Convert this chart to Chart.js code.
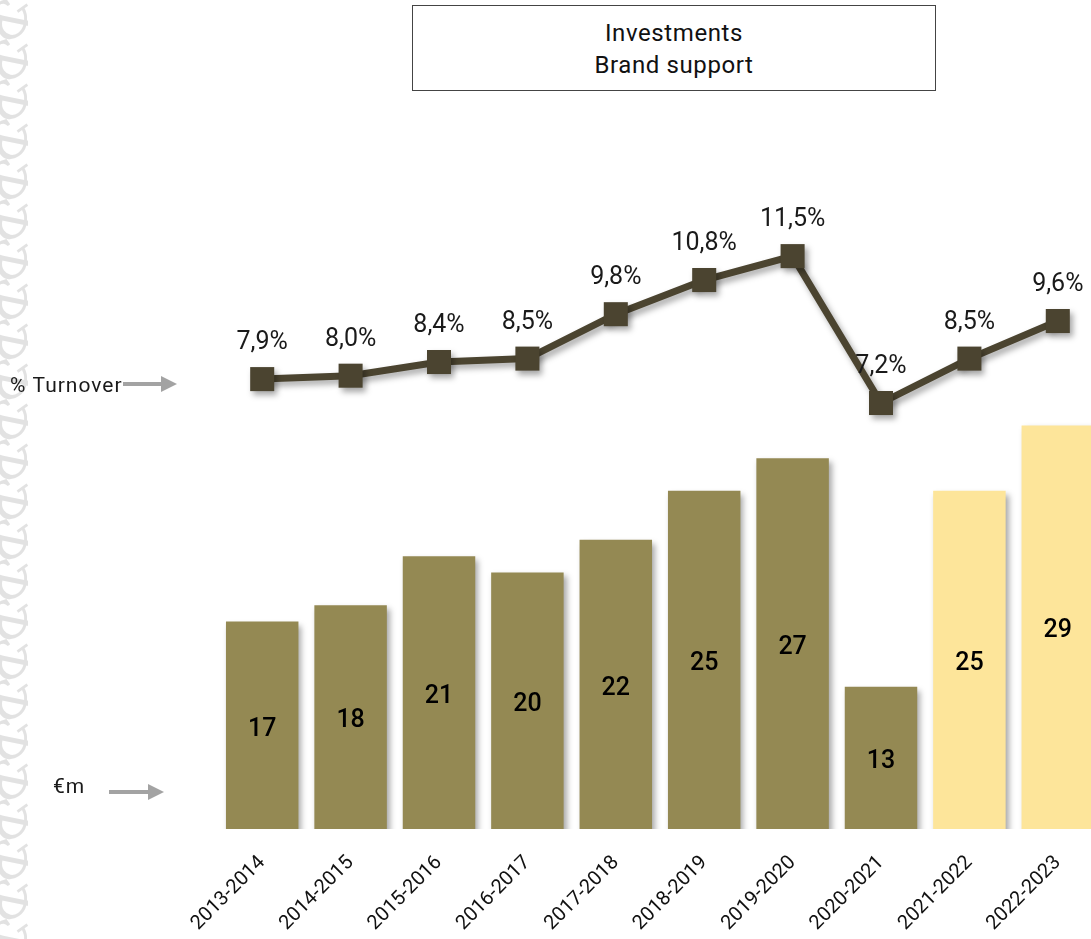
<!DOCTYPE html>
<html>
<head>
<meta charset="utf-8">
<script src="https://cdn.jsdelivr.net/npm/chart.js@4.4.0/dist/chart.umd.min.js"></script>
<style>
  html, body { margin: 0; padding: 0; background: #fff; overflow: hidden; }
  #wrap { position: relative; width: 1091px; height: 939px; overflow: hidden; }
  #chart { position: absolute; left: 0; top: 0; }
  #title {
    position: absolute; left: 412px; top: 5px; width: 524px; height: 86px;
    border: 1px solid #444; background: #fff;
    font-family: Roboto, "DejaVu Sans", sans-serif; font-size: 24px; color: #111;
    letter-spacing: 0.6px;
    text-align: center; line-height: 32px; padding-top: 11px; box-sizing: border-box;
  }
  #strip {
    position: absolute; left: 0; top: 0; width: 28px; height: 939px; overflow: hidden;
    font-family: "DejaVu Serif", serif; font-size: 52px; color: #e2e2e2; line-height: 40px;
  }
  #strip span { display: block; transform: rotate(-35deg); margin-left: -10px; }
</style>
</head>
<body>
<div id="wrap">
  <div id="strip"></div>
  <canvas id="chart" width="1119" height="939"></canvas>
  <div id="title">Investments<br>Brand support</div>
</div>
<script>
const seasons = ['2013-2014', '2014-2015', '2015-2016', '2016-2017', '2017-2018',
                 '2018-2019', '2019-2020', '2020-2021', '2021-2022', '2022-2023'];
const brandSupport = [17, 18, 21, 20, 22, 25, 27, 13, 25, 29];          // €m
const turnoverShare = [7.9, 8.0, 8.4, 8.5, 9.8, 10.8, 11.5, 7.2, 8.5, 9.6]; // % turnover
const budgetYears = ['2021-2022', '2022-2023'];

const olive = '#948953';
const cream = '#fde59a';
const lineCol = '#4b4430';
const font = 'Roboto, "DejaVu Sans", sans-serif';

// decorative strip on the left
const strip = document.getElementById('strip');
for (let i = 0; i < 26; i++) {
  const s = document.createElement('span');
  s.textContent = '&';
  strip.appendChild(s);
}

const shadowPlugin = {
  id: 'shadows',
  beforeDatasetDraw(chart) {
    const ctx = chart.ctx;
    ctx.save();
    ctx.shadowColor = 'rgba(0,0,0,0.35)';
    ctx.shadowBlur = 6;
    ctx.shadowOffsetX = 3;
    ctx.shadowOffsetY = 4;
  },
  afterDatasetDraw(chart) {
    chart.ctx.restore();
  }
};

const labelsPlugin = {
  id: 'valueLabels',
  afterDatasetsDraw(chart) {
    const ctx = chart.ctx;
    const bottom = chart.chartArea.bottom;
    ctx.save();
    // percentages above markers
    const lineMeta = chart.getDatasetMeta(0);
    ctx.font = '25px ' + font;
    ctx.fillStyle = '#1a1a1a';
    ctx.textAlign = 'center';
    ctx.textBaseline = 'middle';
    lineMeta.data.forEach((pt, i) => {
      const txt = turnoverShare[i].toFixed(1).replace('.', ',') + '%';
      ctx.fillText(txt, pt.x, pt.y - 36);
    });
    // amounts inside bars
    const barMeta = chart.getDatasetMeta(1);
    ctx.font = '500 25px ' + font;
    ctx.fillStyle = '#000';
    barMeta.data.forEach((bar, i) => {
      ctx.fillText(String(brandSupport[i]), bar.x, (bar.y + bottom) / 2 + 4);
    });
    // side annotations
    ctx.textAlign = 'left';
    ctx.font = '21px ' + font;
    ctx.letterSpacing = '1px';
    ctx.fillStyle = '#1a1a1a';
    ctx.fillText('% Turnover', 10, 387);
    ctx.fillText('€m', 53, 788);
    ctx.letterSpacing = '0px';
    const arrow = (x1, x2, y) => {
      ctx.strokeStyle = '#a3a3a3';
      ctx.fillStyle = '#a3a3a3';
      ctx.lineWidth = 4;
      ctx.beginPath();
      ctx.moveTo(x1, y);
      ctx.lineTo(x2 - 14, y);
      ctx.stroke();
      ctx.beginPath();
      ctx.moveTo(x2 - 16, y - 8);
      ctx.lineTo(x2, y);
      ctx.lineTo(x2 - 16, y + 8);
      ctx.closePath();
      ctx.fill();
    };
    arrow(123, 177, 384);
    arrow(109, 164, 792);
    ctx.restore();
  }
};

new Chart(document.getElementById('chart').getContext('2d'), {
  data: {
    labels: seasons,
    datasets: [
      {
        type: 'line',
        label: '% Turnover',
        data: turnoverShare,
        yAxisID: 'yPct',
        borderColor: lineCol,
        borderWidth: 7,
        pointStyle: 'rect',
        pointRadius: 17,
        pointBackgroundColor: lineCol,
        pointBorderColor: lineCol,
        pointBorderWidth: 0,
        tension: 0,
        order: 0
      },
      {
        type: 'bar',
        label: '€m',
        data: brandSupport,
        yAxisID: 'yEur',
        backgroundColor: seasons.map(s => budgetYears.includes(s) ? cream : olive),
        barPercentage: 0.82,
        categoryPercentage: 1,
        order: 1
      }
    ]
  },
  options: {
    responsive: false,
    animation: false,
    devicePixelRatio: 1,
    layout: { padding: { left: 218, right: 0, top: 0, bottom: 0 } },
    plugins: {
      legend: { display: false },
      tooltip: { enabled: false },
      title: { display: false }
    },
    scales: {
      x: {
        grid: { display: false, drawTicks: false },
        border: { display: false },
        ticks: {
          color: '#111',
          font: { family: font, size: 20 },
          maxRotation: 45,
          minRotation: 45,
          padding: 22
        },
        afterFit(scale) { scale.height = 110; }
      },
      yEur: {
        display: false,
        min: 4.3,
        max: 54.0
      },
      yPct: {
        display: false,
        min: -5.27,
        max: 18.5
      }
    }
  },
  plugins: [shadowPlugin, labelsPlugin]
});
</script>
</body>
</html>
